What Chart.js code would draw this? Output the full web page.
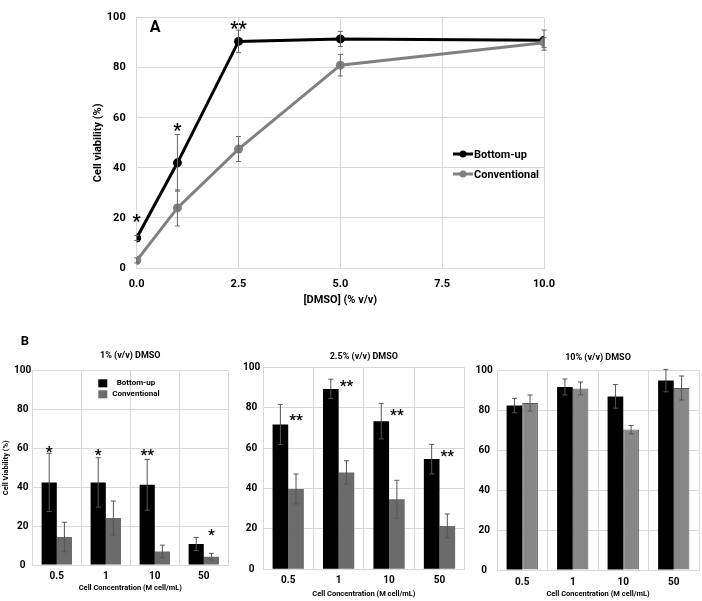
<!DOCTYPE html>
<html>
<head>
<meta charset="utf-8">
<script src="https://cdn.jsdelivr.net/npm/chart.js@4.4.0/dist/chart.umd.min.js"></script>
<style>
  body { margin: 0; background: #fff; width: 702px; height: 601px; position: relative; overflow: hidden; }
  canvas { position: absolute; }
</style>
</head>
<body>
<canvas id="lineChart" width="702" height="310" style="left:0;top:0"></canvas>
<canvas id="bar1" width="240" height="271" style="left:0;top:330px"></canvas>
<canvas id="bar2" width="230" height="271" style="left:240px;top:330px"></canvas>
<canvas id="bar3" width="232" height="271" style="left:470px;top:330px"></canvas>
<script>
// Panel A: viability vs DMSO concentration
const dmso = [0, 1, 2.5, 5, 10];
const lineBottomUp = [12, 42, 90.5, 91.5, 91];
const lineBottomUpErr = [1, 11.3, 4.5, 3, 4];
const lineConventional = [3, 24, 47.5, 81, 90];
const lineConventionalErr = [1, 7.2, 5, 4.3, 2];
const lineStarText = ['*', '*', '**'];
const lineStarIndex = [0, 1, 2];
const lineStarY = [20, 56.5, 97];

// Panel B: viability vs cell concentration
const concLabels = ['0.5', '1', '10', '50'];

const bottomUp1 = [42.5, 42.5, 41.3, 10.8];
const bottomUp1Err = [15, 12.7, 13.1, 3.4];
const conventional1 = [14.4, 24.2, 7, 4.3];
const conventional1Err = [7.6, 8.7, 3.2, 1.7];
const stars1Text = ['*', '*', '**', '*'];
const stars1Series = [0, 0, 0, 1];
const stars1Y = [59.5, 57.8, 57.8, 16.6];

const bottomUp2 = [71.8, 89.4, 73.4, 54.6];
const bottomUp2Err = [9.9, 4.8, 8.8, 7.3];
const conventional2 = [39.8, 48, 34.7, 21.5];
const conventional2Err = [7.4, 5.8, 9.4, 5.9];
const stars2Text = ['**', '**', '**', '**'];
const stars2Series = [1, 1, 1, 1];
const stars2Y = [75.2, 92.1, 77.6, 57.4];

const bottomUp3 = [82.2, 91.5, 86.8, 94.7];
const bottomUp3Err = [3.6, 4, 5.9, 5.6];
const conventional3 = [83.5, 90.8, 70.2, 91];
const conventional3Err = [4, 3.2, 2.1, 6];

const FONT = 'Roboto';
Chart.defaults.font.family = FONT;
Chart.defaults.font.weight = 'bold';
Chart.defaults.color = '#000';

const GRID = '#d9d9d9';

// vertical error bars with small caps
const errorBars = {
  id: 'errorBars',
  afterDatasetsDraw(chart) {
    const ctx = chart.ctx;
    const y = chart.scales.y;
    chart.data.datasets.forEach((ds, di) => {
      if (!ds.errors) return;
      const meta = chart.getDatasetMeta(di);
      meta.data.forEach((el, i) => {
        const d = ds.data[i];
        const v = typeof d === 'object' ? d.y : d;
        const top = y.getPixelForValue(Math.min(v + ds.errors[i], 100.5));
        const bot = y.getPixelForValue(v - ds.errors[i]);
        ctx.save();
        ctx.strokeStyle = ds.errorColor || '#555';
        ctx.lineWidth = 1;
        ctx.beginPath();
        ctx.moveTo(el.x, top); ctx.lineTo(el.x, bot);
        ctx.moveTo(el.x - 2.5, top); ctx.lineTo(el.x + 2.5, top);
        ctx.moveTo(el.x - 2.5, bot); ctx.lineTo(el.x + 2.5, bot);
        ctx.stroke();
        ctx.restore();
      });
    });
  }
};

// significance stars placed over a dataset element
const stars = {
  id: 'stars',
  afterDatasetsDraw(chart, args, opts) {
    if (!opts.text) return;
    const ctx = chart.ctx;
    ctx.save();
    ctx.font = `bold ${opts.size}px ${FONT}`;
    ctx.fillStyle = '#000';
    ctx.textAlign = 'center';
    ctx.textBaseline = 'middle';
    opts.text.forEach((t, i) => {
      const el = chart.getDatasetMeta(opts.series[i]).data[opts.index[i]];
      ctx.fillText(t, el.x, chart.scales.y.getPixelForValue(opts.y[i]) + opts.size * 0.25);
    });
    ctx.restore();
  }
};

// free text: panel letters and titles
const panelText = {
  id: 'panelText',
  afterDraw(chart, args, opts) {
    const ctx = chart.ctx;
    const area = chart.chartArea;
    (opts.items || []).forEach(t => {
      ctx.save();
      ctx.font = `bold ${t.size}px ${FONT}`;
      ctx.fillStyle = '#000';
      ctx.textAlign = 'center';
      ctx.textBaseline = 'middle';
      const x = t.x == null ? (area.left + area.right) / 2 : t.x;
      ctx.fillText(t.text, x, t.y);
      ctx.restore();
    });
  }
};

// legend drawn inside the plot
const innerLegend = {
  id: 'innerLegend',
  afterDraw(chart, args, opts) {
    if (!opts.show) return;
    const ctx = chart.ctx;
    ctx.save();
    ctx.font = `bold ${opts.size}px ${FONT}`;
    ctx.textBaseline = 'middle';
    chart.data.datasets.forEach((ds, i) => {
      const y = opts.y + i * opts.gap;
      const c = ds.backgroundColor;
      if (opts.kind === 'line') {
        ctx.strokeStyle = c; ctx.fillStyle = c; ctx.lineWidth = 3;
        ctx.beginPath(); ctx.moveTo(opts.x, y); ctx.lineTo(opts.x + 20, y); ctx.stroke();
        ctx.beginPath(); ctx.arc(opts.x + 10, y, 3.5, 0, Math.PI * 2); ctx.fill();
        ctx.fillStyle = '#000'; ctx.textAlign = 'left';
        ctx.fillText(ds.label, opts.x + 21, y + 1);
      } else {
        ctx.fillStyle = c;
        ctx.fillRect(opts.x, y - 4, 9, 8);
        ctx.fillStyle = '#000'; ctx.textAlign = 'center';
        ctx.fillText(ds.label, opts.textX, y);
      }
    });
    ctx.restore();
  }
};

new Chart(document.getElementById('lineChart'), {
  type: 'line',
  data: {
    datasets: [
      {
        label: 'Bottom-up',
        data: dmso.map((x, i) => ({ x: x, y: lineBottomUp[i] })),
        errors: lineBottomUpErr,
        errorColor: '#666',
        borderColor: '#000',
        backgroundColor: '#000',
        borderWidth: 3,
        pointRadius: 4.5,
        pointBorderWidth: 0,
        order: 1
      },
      {
        label: 'Conventional',
        data: dmso.map((x, i) => ({ x: x, y: lineConventional[i] })),
        errors: lineConventionalErr,
        errorColor: '#666',
        borderColor: '#808080',
        backgroundColor: '#808080',
        borderWidth: 3,
        pointRadius: 4.5,
        pointBorderWidth: 0,
        order: 0
      }
    ]
  },
  options: {
    responsive: false,
    animation: false,
    layout: { padding: { left: 85, right: 158, top: 6, bottom: 2 } },
    scales: {
      x: {
        type: 'linear', min: 0, max: 10,
        ticks: { stepSize: 2.5, callback: v => v.toFixed(1), padding: 10, font: { size: 11 } },
        grid: { color: GRID, drawTicks: false },
        border: { color: GRID },
        title: { display: true, text: '[DMSO] (% v/v)', font: { size: 11 }, padding: { top: 0, bottom: 1.4 } },
        afterFit: s => { s.height = 40; }
      },
      y: {
        min: 0, max: 100,
        ticks: { stepSize: 20, padding: 11, font: { size: 11 } },
        grid: { color: GRID, drawTicks: false },
        border: { color: GRID },
        title: { display: true, text: 'Cell viability (%)', font: { size: 11 }, padding: { top: 6.4, bottom: 0 } },
        afterFit: s => { s.width = 51.7; }
      }
    },
    plugins: {
      legend: { display: false },
      tooltip: { enabled: false },
      stars: { text: lineStarText, series: [0, 0, 0], index: lineStarIndex, y: lineStarY, size: 18 },
      panelText: { items: [{ text: 'A', x: 155, y: 28, size: 16 }] },
      innerLegend: { show: true, kind: 'line', x: 453, y: 154, gap: 20, size: 11 }
    }
  },
  plugins: [errorBars, stars, panelText, innerLegend]
});

function barChart(id, bu, buErr, cv, cvErr, cfg) {
  return new Chart(document.getElementById(id), {
    type: 'bar',
    data: {
      labels: concLabels,
      datasets: [
        { label: 'Bottom-up', data: bu, errors: buErr, backgroundColor: '#000', borderColor: '#000', borderWidth: 0 },
        { label: 'Conventional', data: cv, errors: cvErr, backgroundColor: cfg.gray, borderColor: cfg.grayBorder || cfg.gray, borderWidth: cfg.grayBorder ? 1 : 0 }
      ]
    },
    options: {
      responsive: false,
      animation: false,
      categoryPercentage: 0.62,
      barPercentage: 1,
      layout: { padding: cfg.padding },
      scales: {
        x: {
          ticks: { padding: cfg.xTickPad, font: { size: 10 } },
          grid: { color: GRID, drawTicks: false },
          border: { color: GRID },
          title: { display: true, text: 'Cell Concentration (M cell/mL)', font: { size: 7.5 }, padding: { top: 0, bottom: cfg.xTitlePad } },
          afterFit: s => { s.height = cfg.xHeight; }
        },
        y: {
          min: 0, max: 100,
          ticks: { stepSize: 20, padding: cfg.yTickPad, crossAlign: 'center', font: { size: 10 } },
          grid: { color: GRID, drawTicks: false },
          border: { color: GRID },
          title: { display: !!cfg.yTitle, text: cfg.yTitle || '', font: { size: 7.5 }, padding: { top: 1.6, bottom: 0 } },
          afterFit: s => { s.width = cfg.yWidth; }
        }
      },
      plugins: {
        legend: { display: false },
        tooltip: { enabled: false },
        stars: cfg.stars || {},
        panelText: { items: cfg.texts },
        innerLegend: cfg.legend || { show: false }
      }
    },
    plugins: [errorBars, stars, panelText, innerLegend]
  });
}

barChart('bar1', bottomUp1, bottomUp1Err, conventional1, conventional1Err, {
  gray: '#6b6b6b',
  padding: { left: 0, right: 11.7, top: 40.7, bottom: 6 },
  yWidth: 32.3, yTickPad: 1, yTitle: 'Cell Viability (%)',
  xHeight: 30, xTickPad: 5, xTitlePad: 2.3,
  stars: { text: stars1Text, series: stars1Series, index: [0, 1, 2, 3], y: stars1Y, size: 15 },
  texts: [{ text: 'B', x: 25, y: 12, size: 13 }, { text: '1% (v/v) DMSO', y: 26, size: 9 }],
  legend: { show: true, kind: 'bar', x: 98.3, textX: 136, y: 53.3, gap: 11, size: 8 }
});

barChart('bar2', bottomUp2, bottomUp2Err, conventional2, conventional2Err, {
  gray: '#6b6b6b',
  padding: { left: 0, right: 5.3, top: 37.5, bottom: 1 },
  yWidth: 23, yTickPad: 2.8,
  xHeight: 30.7, xTickPad: 5, xTitlePad: 0.9,
  stars: { text: stars2Text, series: stars2Series, index: [0, 1, 2, 3], y: stars2Y, size: 15 },
  texts: [{ text: '2.5% (v/v) DMSO', y: 26.7, size: 9 }]
});

barChart('bar3', bottomUp3, bottomUp3Err, conventional3, conventional3Err, {
  gray: '#878787', grayBorder: '#555',
  padding: { left: 0, right: 3, top: 40, bottom: 1 },
  yWidth: 27, yTickPad: 4.2,
  xHeight: 30, xTickPad: 6, xTitlePad: 1.3,
  texts: [{ text: '10% (v/v) DMSO', y: 27.3, size: 9 }]
});
</script>
</body>
</html>
